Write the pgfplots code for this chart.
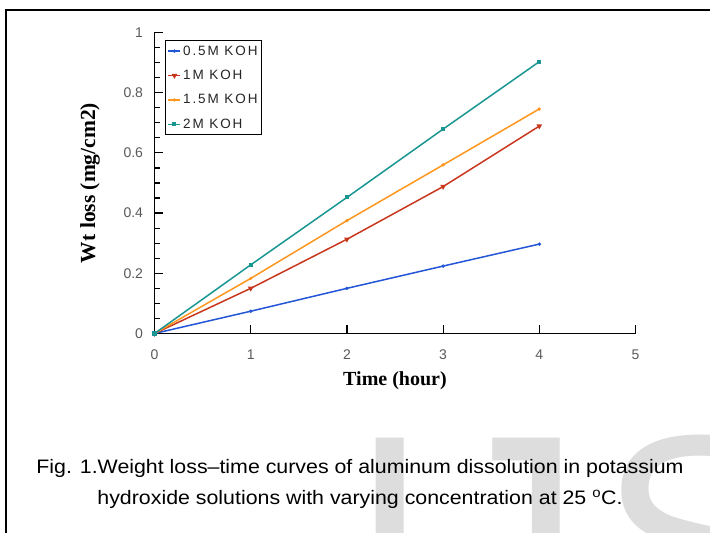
\documentclass[border=0pt]{standalone}
\usepackage{fontspec}
\setmainfont{Liberation Sans}
\newfontfamily\serifb{Liberation Serif}
\newfontfamily\legfont[LetterSpace=14]{Liberation Sans}
\newfontfamily\capfont[FakeStretch=1.095]{Liberation Sans}
\usepackage{pgfplots}
\pgfplotsset{compat=1.18}
\definecolor{cblue}{RGB}{35,85,215}
\definecolor{cred}{RGB}{200,55,30}
\definecolor{corange}{RGB}{255,150,30}
\definecolor{cteal}{RGB}{25,150,145}
\definecolor{wmark}{RGB}{221,221,221}
\begin{document}
\begin{tikzpicture}[x=1pt,y=1pt]
\useasboundingbox (0,0) rectangle (710,533);
\clip (0,0) rectangle (710,533);
\begin{scope}[every node/.style={anchor=base west, inner sep=0, text=wmark, font=\fontsize{300}{300}\selectfont}]
\node at (348,-111) {I};
\node at (432,-111) {J};
\node at (598,-111) {SER};
\end{scope}
\draw[line width=2pt] (6,0) -- (6,522.7) -- (710,522.7);
\begin{axis}[
  at={(154.5pt,199.5pt)}, anchor=south west,
  scale only axis, width=481pt, height=301pt,
  xmin=0, xmax=5, ymin=0, ymax=1,
  axis x line=bottom, axis y line=left,
  axis line style={-, line width=1.6pt},
  tick align=inside,
  major tick length=8pt, minor tick length=5pt,
  every tick/.style={black, line width=1.2pt},
  xtick={0,1,2,3,4,5},
  ytick={0,0.2,0.4,0.6,0.8,1},
  minor y tick num=3,
  /pgf/number format/assume math mode=true,
  ticklabel style={font=\fontsize{14}{14}\selectfont, text=black!65},
  yticklabel style={xshift=-8pt},
  xticklabel style={yshift=-13pt},
  xlabel={\serifb\bfseries Time (hour)},
  ylabel={\serifb\bfseries Wt loss (mg/cm2)},
  label style={font=\fontsize{20}{20}\selectfont},
  xlabel style={at={(axis description cs:0.5,-0.158)}, anchor=center},
  ylabel style={at={(axis description cs:-0.134,0.5)}, anchor=center, font=\fontsize{21.5}{21.5}\selectfont},
  legend style={at={(axis description cs:0.022,0.975)}, anchor=north west,
    draw=black, line width=1.2pt, inner xsep=2pt, inner ysep=3pt,
    font=\legfont\fontsize{13.5}{13.5}\selectfont, text=black!85,
    row sep=9.5pt, cells={anchor=west}},
  legend image code/.code={\draw[#1, line width=1.5pt, mark repeat=2, mark phase=2] plot coordinates {(0pt,0pt) (6pt,0pt) (12pt,0pt)};},
  clip=false,
]
\addplot[cblue, line width=1.5pt, mark=*, mark size=0.8pt] coordinates {(0,0) (1,0.074) (2,0.150) (3,0.224) (4,0.297)};
\addlegendentry{0.5M KOH}
\addplot[cred, line width=1.5pt, mark=triangle*, mark size=1.8pt, mark options={rotate=180}] coordinates {(0,0) (1,0.150) (2,0.313) (3,0.488) (4,0.689)};
\addlegendentry{1M KOH}
\addplot[corange, line width=1.5pt, mark=*, mark size=0.8pt] coordinates {(0,0) (1,0.183) (2,0.375) (3,0.560) (4,0.746)};
\addlegendentry{1.5M KOH}
\addplot[cteal, line width=1.5pt, mark=square*, mark size=1.3pt] coordinates {(0,0) (1,0.228) (2,0.452) (3,0.679) (4,0.903)};
\addlegendentry{2M KOH}
\end{axis}
\node[anchor=base, inner sep=0, font=\capfont\fontsize{19.5}{19.5}\selectfont] at (360,59) {Fig. 1.Weight loss\textendash time curves of aluminum dissolution in potassium};
\node[anchor=base, inner sep=0, font=\capfont\fontsize{19.5}{19.5}\selectfont] at (360,28) {hydroxide solutions with varying concentration at 25 \textsuperscript{o}C.};
\end{tikzpicture}
\end{document}
